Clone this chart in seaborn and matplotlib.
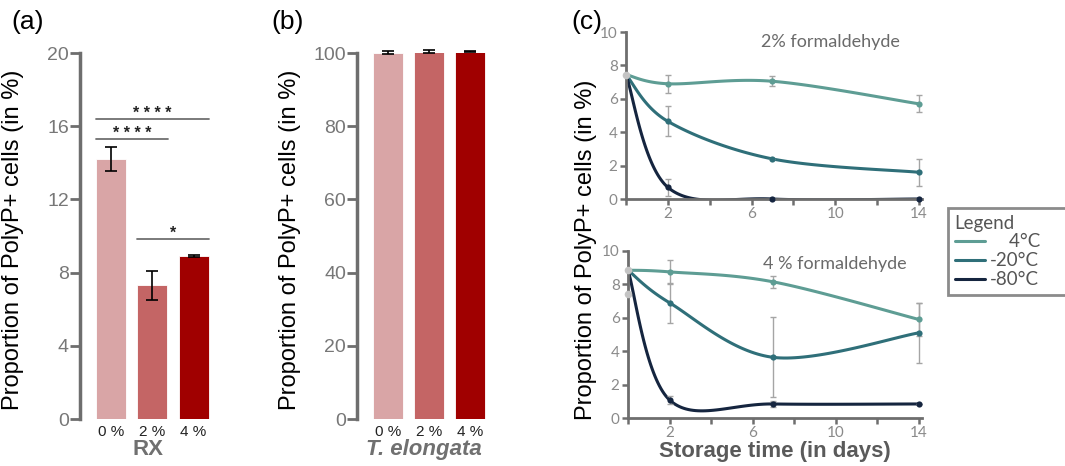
import numpy as np
import matplotlib
matplotlib.use("Agg")
import matplotlib.pyplot as plt
import seaborn as sns
from matplotlib.lines import Line2D

sns.set_style("ticks")
plt.rcParams['font.family'] = ['Liberation Sans', 'DejaVu Sans']

# ---- data ----
conc_labels = ["0 %", "2 %", "4 %"]
bar_colors = ["#d9a5a6", "#c46565", "#a00000"]

# (a) RX
rx_mean = [14.2, 7.3, 8.9]
rx_err = [0.65, 0.78, 0.06]
rx_sig_pairs = [(0, 2), (0, 1), (1, 2)]
rx_sig_height = [16.4, 15.3, 9.85]
rx_sig_stars = ["* * * *", "* * * *", "*"]

# (b) T. elongata
te_mean = [100.1, 100.5, 100.4]
te_err = [0.45, 0.45, 0.15]

# (c) storage time
days = [0, 2, 7, 14]
temp_labels = ["4°C", "-20°C", "-80°C"]
line_colors = ["#5e9d94", "#2f6f79", "#15253f"]

fa2_4c = [7.45, 6.9, 7.05, 5.7]
fa2_20c = [7.45, 4.65, 2.4, 1.6]
fa2_80c = [7.45, 0.7, 0.0, 0.0]
fa2_4c_err = [0, 0.55, 0.3, 0.5]
fa2_20c_err = [0, 0.9, 0.0, 0.8]
fa2_80c_err = [0, 0.5, 0.0, 0.0]
fa2_start_dots = [7.45]

fa4_4c = [8.85, 8.75, 8.15, 5.9]
fa4_20c = [8.85, 6.9, 3.63, 5.1]
fa4_80c = [8.85, 1.08, 0.84, 0.84]
fa4_4c_err = [0, 0.72, 0.35, 1.0]
fa4_20c_err = [0, 1.2, 2.4, 1.8]
fa4_80c_err = [0, 0.25, 0.2, 0.0]
fa4_start_dots = [8.85, 7.4]

GRAY = "#6e6e6e"


def smooth(x, y, n=40):
    # excel-like smoothed line (catmull-rom style bezier)
    pts = np.column_stack([np.asarray(x, float), np.asarray(y, float)])
    out = []
    for i in range(len(pts) - 1):
        p0 = pts[max(i - 1, 0)]
        p1 = pts[i]
        p2 = pts[i + 1]
        p3 = pts[min(i + 2, len(pts) - 1)]
        c1 = p1 + (p2 - p0) / 6
        c2 = p2 - (p3 - p1) / 6
        t = np.linspace(0, 1, n)[:, None]
        seg = (1 - t)**3 * p1 + 3 * (1 - t)**2 * t * c1 + 3 * (1 - t) * t**2 * c2 + t**3 * p2
        out.append(seg if i == 0 else seg[1:])
    return np.vstack(out)


W, H = 1065, 466
fig = plt.figure(figsize=(W / 100, H / 100), dpi=100)


def px_axes(left, right, top, bottom):
    return fig.add_axes([left / W, 1 - bottom / H, (right - left) / W, (bottom - top) / H])


def bar_panel(ax, means, errs, yticks, xlabel, italic=False):
    sns.barplot(x=conc_labels, y=means, hue=conc_labels, palette=bar_colors, legend=False,
                saturation=1, width=0.73, errorbar=None, edgecolor="white", linewidth=0.6, ax=ax)
    eb = ax.errorbar(range(3), means, yerr=errs, fmt="none", ecolor="black", elinewidth=1.2,
                     capsize=4.5, capthick=1.2)
    for art in eb.lines[1] + eb.lines[2]:
        art.set_clip_on(False)
    ax.set_xlim(-0.76, 2.52)
    ax.set_ylim(0, yticks[-1])
    ax.set_yticks(yticks)
    for s in ["top", "right", "bottom"]:
        ax.spines[s].set_visible(False)
    ax.spines["left"].set_color(GRAY)
    ax.spines["left"].set_linewidth(2.5)
    ax.tick_params(axis="y", left=True, length=7, width=2, color=GRAY, labelcolor="#777777",
                   labelsize=14, pad=1)
    ax.tick_params(axis="x", bottom=False, length=0, labelsize=11, labelcolor="#222222", pad=4)
    ax.set_ylabel("Proportion of PolyP+ cells (in %)", fontsize=17, color="black")
    ax.set_xlabel(xlabel, fontsize=16, fontweight="bold", color="#707070",
                  style="italic" if italic else "normal", labelpad=0)


# (a)
ax_a = px_axes(80, 215, 53, 419)
bar_panel(ax_a, rx_mean, rx_err, [0, 4, 8, 12, 16, 20], "RX")
ax_a.yaxis.set_label_coords((24 - 80) / 135, 0.49)
for (i, j), h, st in zip(rx_sig_pairs, rx_sig_height, rx_sig_stars):
    ax_a.plot([i - 0.37, j + 0.37], [h, h], color="#707070", lw=1.3)
    ax_a.text((i + j) / 2, h - 0.1, st, ha="center", va="bottom", fontsize=11.5,
              fontweight="bold", color="#222222")

# (b)
ax_b = px_axes(357, 491, 53, 419)
bar_panel(ax_b, te_mean, te_err, [0, 20, 40, 60, 80, 100], "T. elongata", italic=True)
ax_b.yaxis.set_label_coords((301 - 357) / 134, 0.49)

# (c)
panels_c = [
    (px_axes(626, 922, 32, 199), [fa2_4c, fa2_20c, fa2_80c], [fa2_4c_err, fa2_20c_err, fa2_80c_err],
     fa2_start_dots, "2% formaldehyde", (0.69, 0.94)),
    (px_axes(628, 922, 251, 418), [fa4_4c, fa4_20c, fa4_80c], [fa4_4c_err, fa4_20c_err, fa4_80c_err],
     fa4_start_dots, "4 % formaldehyde", (0.705, 0.92)),
]
for ax, series, errs, dots, title, tpos in panels_c:
    for vals, err, col in zip(series, errs, line_colors):
        sm = smooth(days, vals)
        sns.lineplot(x=sm[:, 0], y=sm[:, 1], sort=False, estimator=None, color=col, lw=2.2, ax=ax)
        ax.errorbar(days[1:], vals[1:], yerr=err[1:], fmt="none", ecolor="#a5a5a5",
                    elinewidth=1, capsize=2.5, capthick=1, zorder=3)
        sns.scatterplot(x=days[1:], y=vals[1:], color=col, s=20, linewidth=0, ax=ax,
                        zorder=4, clip_on=False)
    sns.scatterplot(x=[0] * len(dots), y=dots, color="#c4c4c4", s=30, linewidth=0, ax=ax,
                    zorder=5, clip_on=False)
    ax.set_xlim(0, 14.15)
    ax.set_ylim(0, 10)
    ax.set_xticks([2, 6, 10, 14])
    ax.set_xticks([0, 4, 8, 12], minor=True)
    ax.set_yticks([0, 2, 4, 6, 8, 10])
    for s in ["top", "right"]:
        ax.spines[s].set_visible(False)
    for s in ["left", "bottom"]:
        ax.spines[s].set_color(GRAY)
        ax.spines[s].set_linewidth(2)
    ax.tick_params(which="both", left=True, bottom=True, length=4, width=1.8, color=GRAY,
                   labelcolor="#8a8a8a", labelsize=11, pad=2)
    for lab in ax.get_xticklabels() + ax.get_yticklabels():
        lab.set_fontfamily("Lato")
    ax.set_xlabel("")
    ax.set_ylabel("")
    ax.text(tpos[0], tpos[1], title, transform=ax.transAxes, ha="center", va="center",
            fontsize=13, color="#6a6a6a", family="Lato")

fig.text(586 / W, 1 - 250 / H, "Proportion of PolyP+ cells (in %)", rotation=90,
         ha="center", va="center", fontsize=17, color="black")
fig.text(775 / W, 1 - 451 / H, "Storage time (in days)", ha="center", va="center",
         fontsize=16, fontweight="bold", color="#5a5a5a")

# legend
handles = [Line2D([0], [0], color=c, lw=2.2) for c in line_colors]
labels = ["    4°C", "-20°C", "-80°C"]
leg = fig.legend(handles, labels, title="Legend", loc="upper left",
                 bbox_to_anchor=(948 / W, 1 - 208 / H, 140 / W, 0), mode="expand",
                 borderaxespad=0, frameon=True, fancybox=False, alignment="left",
                 prop={"family": "Lato", "size": 13.5},
                 title_fontproperties={"family": "Lato", "size": 13.5},
                 handlelength=1.6, handletextpad=0.3, labelspacing=0.1, borderpad=0.35)
leg.get_frame().set_edgecolor(GRAY)
leg.get_frame().set_linewidth(2)
leg.get_title().set_color("#555555")
for t in leg.get_texts():
    t.set_color("#555555")

# panel letters
for x, letter in [(28, "(a)"), (288, "(b)"), (587, "(c)")]:
    fig.text(x / W, 1 - 22 / H, letter, ha="center", va="center", fontsize=19, color="black")

fig.savefig("out.png", dpi=100)
